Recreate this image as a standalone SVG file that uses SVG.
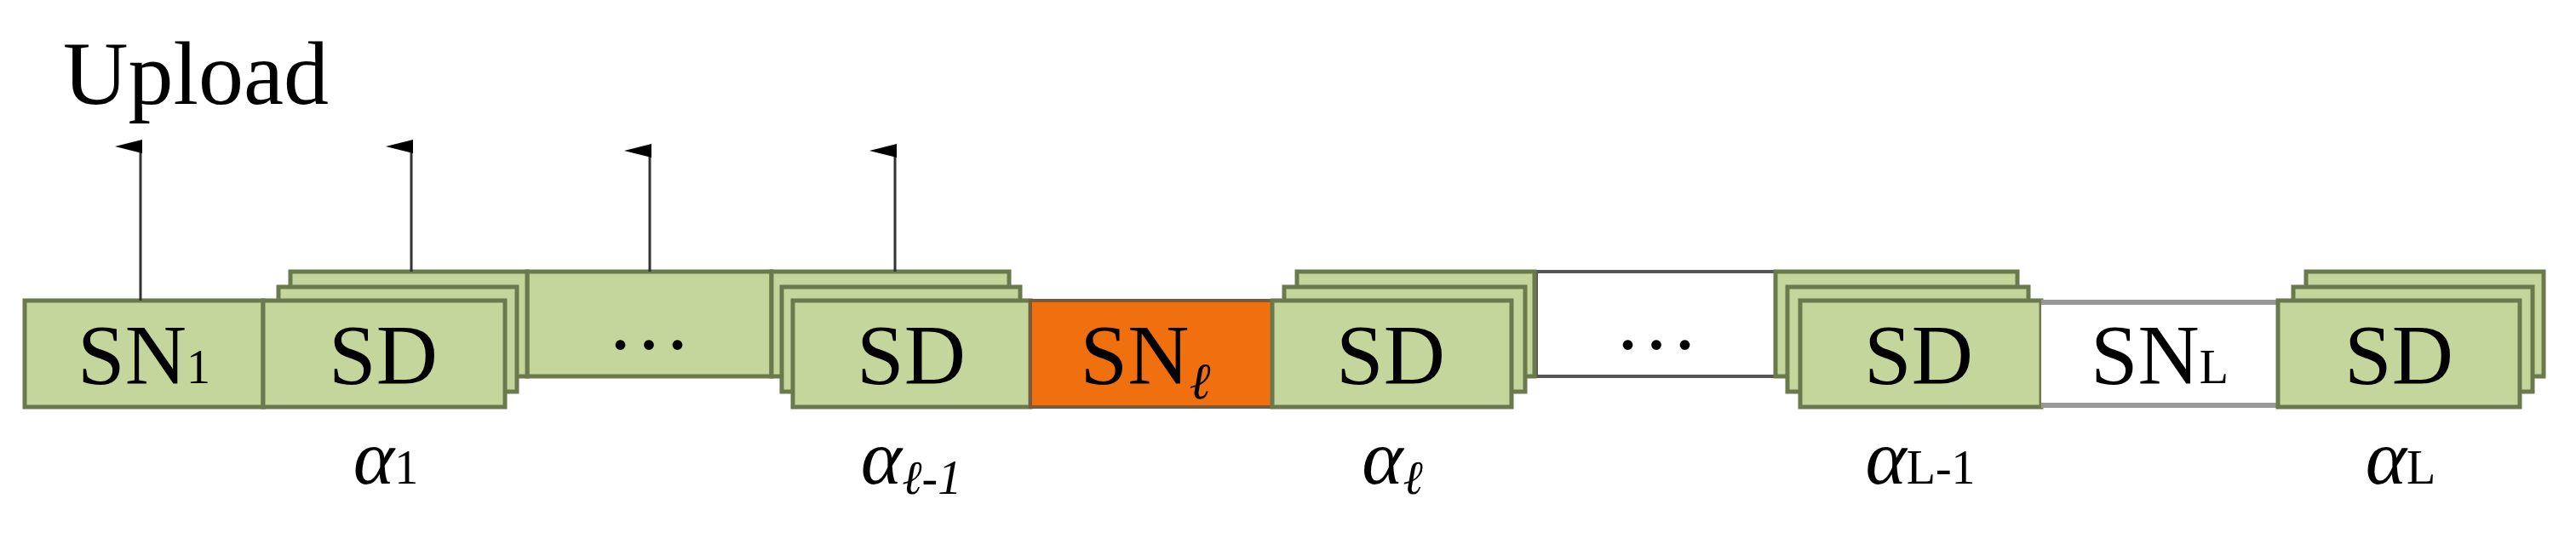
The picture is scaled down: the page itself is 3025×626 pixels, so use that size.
<svg xmlns="http://www.w3.org/2000/svg" width="3025" height="626" viewBox="0 0 3025 626">
<defs>
<marker id="ah" markerWidth="16" markerHeight="32" refX="8" refY="30" orient="auto" markerUnits="userSpaceOnUse" viewBox="0 0 16 32">
<path d="M0,32 L8,0 L16,32 Z" fill="#000"/>
</marker>
</defs>
<style>
.g{fill:#c4d69c;stroke:#6b7a4c;stroke-width:5}
.w{fill:#fff;stroke:#555;stroke-width:4}
.o{fill:#f07010;stroke:#7a5a3a;stroke-width:4}
.wl{fill:#fff;stroke:#999;stroke-width:0}
.t{font-family:"Liberation Serif",serif;font-size:100px;fill:#000;text-anchor:middle}
.a{font-family:"Liberation Serif",serif;font-size:92px;font-style:italic;fill:#000;text-anchor:middle}
.s{font-size:56px;font-style:normal}
.c{stroke:#333;stroke-width:3;fill:none;marker-end:url(#ah)}
</style>
<rect width="3025" height="626" fill="#fff"/>
<text x="74" y="122" style="font-family:'Liberation Serif',serif;font-size:106px">Upload</text>
<g id="dots1"><rect class="g" x="619" y="319" width="287" height="123"/><text class="t" x="762" y="410">…</text></g>
<g id="dots2"><rect class="w" x="1804" y="319" width="281" height="123"/><text class="t" x="1945" y="410">…</text></g>
<g id="sn1"><rect class="g" x="29" y="353" width="280" height="125"/><text class="t" x="169" y="450">SN<tspan class="s">1</tspan></text></g>
<g id="sd1"><rect class="g" x="341" y="319" width="278" height="123"/><rect class="g" x="327" y="337" width="280" height="123"/><rect class="g" x="309" y="353" width="284" height="125"/><text class="t" x="450" y="450">SD</text></g>
<g id="sd2"><rect class="g" x="906" y="319" width="279" height="123"/><rect class="g" x="918" y="337" width="280" height="123"/><rect class="g" x="931" y="353" width="279" height="125"/><text class="t" x="1070" y="450">SD</text></g>
<g id="snl"><rect class="o" x="1210" y="353" width="284" height="125"/><text class="t" x="1345" y="450">SN<tspan font-style="italic" font-size="60" dy="18">ℓ</tspan></text></g>
<g id="sd3"><rect class="g" x="1523" y="319" width="279" height="123"/><rect class="g" x="1508" y="337" width="283" height="123"/><rect class="g" x="1494" y="353" width="281" height="125"/><text class="t" x="1633" y="450">SD</text></g>
<g id="sd4"><rect class="g" x="2085" y="319" width="284" height="123"/><rect class="g" x="2099" y="337" width="283" height="123"/><rect class="g" x="2114" y="353" width="283" height="125"/><text class="t" x="2253" y="450">SD</text></g>
<g id="snL"><rect x="2397" y="353" width="278" height="125" fill="#fff"/><line x1="2397" y1="355" x2="2675" y2="355" stroke="#999" stroke-width="6"/><line x1="2397" y1="476" x2="2675" y2="476" stroke="#999" stroke-width="6"/><text class="t" x="2536" y="450">SN<tspan class="s">L</tspan></text></g>
<g id="sd5"><rect class="g" x="2708" y="319" width="279" height="123"/><rect class="g" x="2693" y="337" width="281" height="123"/><rect class="g" x="2675" y="353" width="284" height="125"/><text class="t" x="2817" y="450">SD</text></g>
<g id="labels">
<text class="a" x="453" y="568">α<tspan class="s">1</tspan></text>
<text class="a" x="1070" y="568">α<tspan font-size="56" dy="12">ℓ-1</tspan></text>
<text class="a" x="1635" y="568">α<tspan font-size="56" dy="12">ℓ</tspan></text>
<text class="a" x="2255" y="568">α<tspan class="s">L-1</tspan></text>
<text class="a" x="2819" y="568">α<tspan class="s">L</tspan></text>
</g>
<g id="connectors">
<line class="c" x1="165" y1="353" x2="165" y2="172"/>
<line class="c" x1="483" y1="319" x2="483" y2="172"/>
<line class="c" x1="763" y1="319" x2="763" y2="177"/>
<line class="c" x1="1051" y1="319" x2="1051" y2="177"/>
</g>
</svg>
